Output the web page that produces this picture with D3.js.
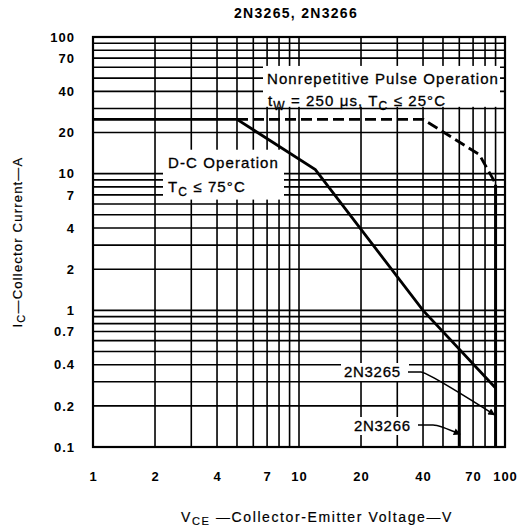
<!DOCTYPE html>
<html><head><meta charset="utf-8">
<script src="https://cdn.jsdelivr.net/npm/d3@7"></script>
<style>
html,body{margin:0;padding:0;background:#fff;}
text{font-family:"Liberation Sans",Arial,Helvetica,sans-serif;fill:#000;}
</style></head>
<body>
<svg id="chart" width="529" height="527"></svg>
<script>
// ---- data ----
const xTickLabels = [1, 2, 4, 7, 10, 20, 40, 70, 100];
const yTickLabels = [100, 70, 40, 20, 10, 7, 4, 2, 1, 0.7, 0.4, 0.2, 0.1];
// D-C operation safe area boundary (VCE in V, IC in A)
const dcV = [1, 5, 12, 40, 90];
const dcI = [25, 25, 10.7, 1.0, 0.27];
// Nonrepetitive pulse operation boundary
const pulseV = [5, 40, 75, 88, 90];
const pulseI = [25, 25, 13.8, 9.0, 8.3];
// device voltage limits (vertical drops)
const limitV = [60, 90];
const limitTop = [0.52, 8.3];
const limitBottom = [0.1, 0.1];
const deviceNames = ["2N3266", "2N3265"];

const svg = d3.select("#chart");
const L = 93, R = 505, T = 37, B = 447;
const x = d3.scaleLog().domain([1, 100]).range([L, R]);
const y = d3.scaleLog().domain([0.1, 100]).range([B, T]);

// title
svg.append("text").attr("x", 296).attr("y", 18).attr("text-anchor", "middle")
  .style("font-size", "14px").style("font-weight", "bold").style("letter-spacing", "1.3px")
  .text("2N3265, 2N3266");

// grid
const g = svg.append("g");
const xGrid = x.ticks();
const yGrid = y.ticks();
g.selectAll(".vg").data(xGrid).join("line")
  .attr("x1", d => x(d)).attr("x2", d => x(d)).attr("y1", T).attr("y2", B)
  .attr("stroke", "#000").attr("stroke-width", 1.6);
g.selectAll(".hg").data(yGrid).join("line")
  .attr("y1", d => y(d)).attr("y2", d => y(d)).attr("x1", L).attr("x2", R)
  .attr("stroke", "#000").attr("stroke-width", 1.6);
g.append("rect").attr("x", L).attr("y", T).attr("width", R - L).attr("height", B - T)
  .attr("fill", "none").attr("stroke", "#000").attr("stroke-width", 2.2);

// axes (labels only)
const yAxis = d3.axisLeft(y).tickValues(yTickLabels).tickSize(0).tickPadding(0)
  .tickFormat(d => String(d));
svg.append("g").attr("transform", `translate(${L - 18},0)`).call(yAxis)
  .call(s => s.select(".domain").remove())
  .selectAll("text").style("font-size", "13px").style("font-weight", "bold").style("letter-spacing", "1px")
  .style("font-family", "'Liberation Sans',Arial,sans-serif").attr("fill", "#000");
const xAxis = d3.axisBottom(x).tickValues(xTickLabels).tickSize(0).tickPadding(0)
  .tickFormat(d => String(d));
svg.append("g").attr("transform", `translate(0,${B + 25})`).call(xAxis)
  .call(s => s.select(".domain").remove())
  .selectAll("text").style("font-size", "13px").style("font-weight", "bold").style("letter-spacing", "1px")
  .style("font-family", "'Liberation Sans',Arial,sans-serif").attr("fill", "#000");

// label boxes (white backgrounds covering grid)
function box(x0, x1, y0, y1) {
  svg.append("rect").attr("x", x(x0)).attr("y", y(y0))
    .attr("width", x(x1) - x(x0)).attr("height", y(y1) - y(y0)).attr("fill", "#fff");
}
box(10 ** ((263 - L) / 206), 10 ** ((500 - L) / 206), 10 ** (2 - (66 - T) / 137), 10 ** (2 - (107 - T) / 137));
box(10 ** ((163 - L) / 206), 10 ** ((284 - L) / 206), 10 ** (2 - (150 - T) / 137), 10 ** (2 - (200 - T) / 137));

// curves
const line = d3.line().x(d => x(d[0])).y(d => y(d[1]));
svg.append("path").datum(dcV.map((v, i) => [v, dcI[i]])).attr("d", line)
  .attr("fill", "none").attr("stroke", "#000").attr("stroke-width", 2.8);
svg.append("path").datum(pulseV.map((v, i) => [v, pulseI[i]])).attr("d", line)
  .attr("fill", "none").attr("stroke", "#000").attr("stroke-width", 2.8)
  .attr("stroke-dasharray", "11,5");
svg.selectAll(".lim").data(limitV).join("line")
  .attr("x1", d => x(d)).attr("x2", d => x(d))
  .attr("y1", (d, i) => y(limitTop[i])).attr("y2", (d, i) => y(limitBottom[i]))
  .attr("stroke", "#000").attr("stroke-width", 3);

// annotation text
const annStyle = s => s.style("font-size", "15px").style("letter-spacing", "1.1px")
  .attr("stroke", "#000").attr("stroke-width", 0.3);
svg.append("text").attr("x", 267).attr("y", 84).call(annStyle)
  .text("Nonrepetitive Pulse Operation");
const t2 = svg.append("text").attr("x", 268).attr("y", 106).call(annStyle);
t2.append("tspan").text("t");
t2.append("tspan").attr("dy", 4).style("font-size", "12px").text("W");
t2.append("tspan").attr("dy", -4).text(" = 250 \u03bcs, T");
t2.append("tspan").attr("dy", 4).style("font-size", "12px").text("C");
t2.append("tspan").attr("dy", -4).text(" \u2264 25\u00b0C");

svg.append("text").attr("x", 168).attr("y", 168).call(annStyle).text("D-C Operation");
const t3 = svg.append("text").attr("x", 168).attr("y", 192).call(annStyle);
t3.append("tspan").text("T");
t3.append("tspan").attr("dy", 4).style("font-size", "12px").text("C");
t3.append("tspan").attr("dy", -4).text(" \u2264 75\u00b0C");

// device labels with leaders
const defs = svg.append("defs");
defs.append("marker").attr("id", "ah").attr("viewBox", "0 0 10 10").attr("refX", 9).attr("refY", 5)
  .attr("markerWidth", 10).attr("markerHeight", 7).attr("orient", "auto").attr("markerUnits", "userSpaceOnUse")
  .append("path").attr("d", "M0,0 L10,5 L0,10 Z").attr("fill", "#000");

const devLabel = [
  { name: deviceNames[1], tx: 344, ty: 377, lx0: 408, lx1: 421, ly: 372, tip: [89, 0.172] },
  { name: deviceNames[0], tx: 354, ty: 431, lx0: 418, lx1: 433, ly: 425, tip: [60.5, 0.124] }
];
devLabel.forEach(d => {
  svg.append("rect").attr("x", d.tx - 3).attr("y", d.ty - 14).attr("width", d.lx0 - d.tx + 4).attr("height", 18).attr("fill", "#fff");
  svg.append("text").attr("x", d.tx).attr("y", d.ty).call(annStyle).style("letter-spacing", "0.7px").text(d.name);
  const tx = x(d.tip[0]), ty = y(d.tip[1]);
  svg.append("path")
    .attr("d", `M${d.lx0},${d.ly} L${d.lx1},${d.ly} Q${d.lx1 + 6},${d.ly} ${tx},${ty}`)
    .attr("fill", "none").attr("stroke", "#000").attr("stroke-width", 1.6).attr("marker-end", "url(#ah)");
});

// axis titles
const xt = svg.append("text").attr("x", 317).attr("y", 522).attr("text-anchor", "middle")
  .style("font-size", "14px").style("letter-spacing", "1.6px").attr("stroke", "#000").attr("stroke-width", 0.2);
xt.append("tspan").text("V");
xt.append("tspan").attr("dy", 3).style("font-size", "11px").text("CE");
xt.append("tspan").attr("dy", -3).text(" \u2014Collector-Emitter Voltage\u2014V");

const yt = svg.append("text").attr("transform", "translate(22,242) rotate(-90)").attr("text-anchor", "middle")
  .style("font-size", "13px").style("letter-spacing", "1.2px").attr("stroke", "#000").attr("stroke-width", 0.2);
yt.append("tspan").text("I");
yt.append("tspan").attr("dy", 3).style("font-size", "11px").text("C");
yt.append("tspan").attr("dy", -3).text("\u2014Collector Current\u2014A");
</script>
</body></html>
